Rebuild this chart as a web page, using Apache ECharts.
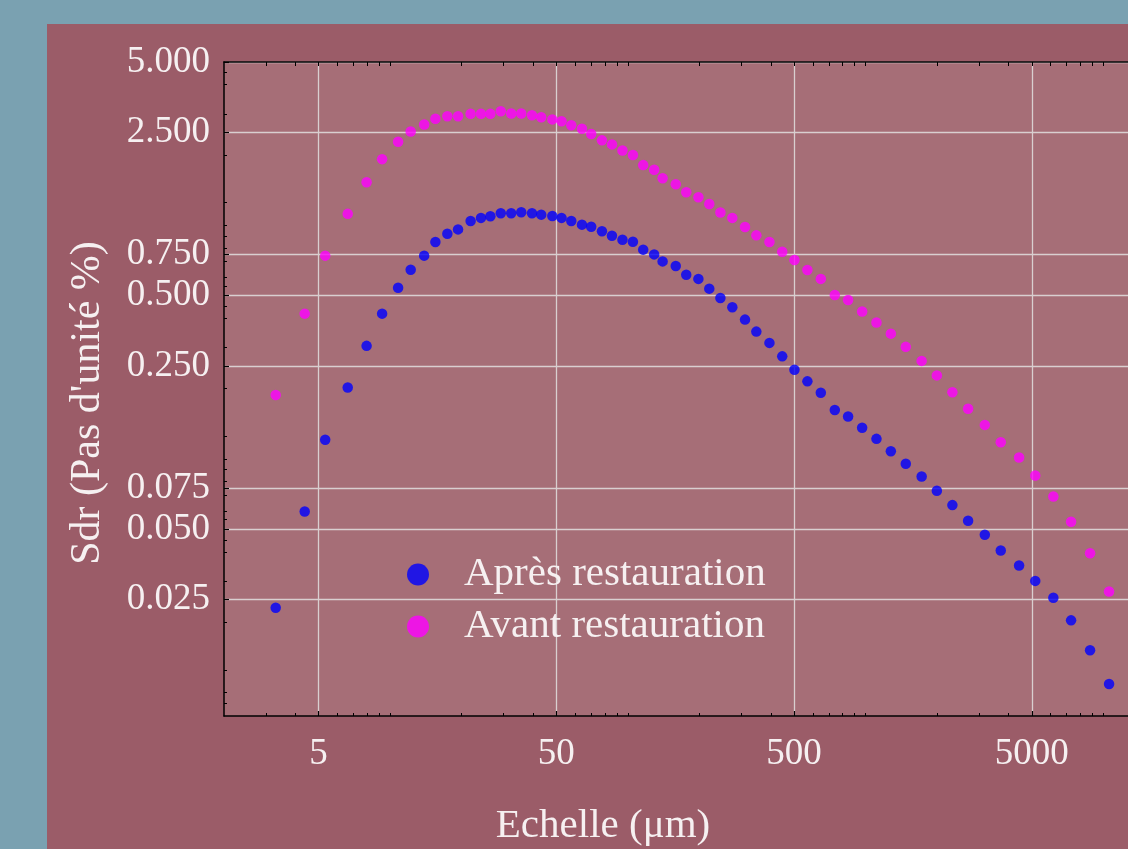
<!DOCTYPE html>
<html>
<head>
<meta charset="utf-8">
<script src="https://cdn.jsdelivr.net/npm/echarts@6/dist/echarts.min.js"></script>
<style>
html,body{margin:0;padding:0;background:#7aa1b1;width:1128px;height:849px;overflow:hidden;}
#panel{position:absolute;left:47px;top:24px;width:1081px;height:825px;background:#9b5c68;}
#c{position:absolute;left:0;top:0;width:1128px;height:849px;}
</style>
</head>
<body>
<div id="panel"></div>
<div id="c"></div>
<script>
// Scale (µm), shared by both series
const scales = [3.30, 4.37, 5.33, 6.63, 7.96, 9.25, 10.8, 12.2, 13.9, 15.5,
  17.4, 19.3, 21.8, 24.1, 26.4, 29.2, 32.3, 35.6, 39.5, 43.2,
  48.1, 52.6, 57.8, 64.1, 70.1, 77.8, 85.7, 94.9, 105, 116,
  129, 140, 159, 176, 198, 220, 245, 275, 311, 347,
  394, 446, 502, 569, 648, 742, 844, 967, 1111, 1277,
  1476, 1721, 1994, 2318, 2699, 3173, 3703, 4422, 5172, 6163,
  7317, 8795, 10572];

// Sdr before restoration (magenta)
const avant = [0.188, 0.419, 0.742, 1.12, 1.53, 1.92, 2.28, 2.52, 2.70, 2.86,
  2.93, 2.93, 3.00, 3.00, 3.00, 3.08, 3.01, 3.01, 2.96, 2.90,
  2.84, 2.79, 2.68, 2.59, 2.46, 2.31, 2.22, 2.09, 2.00, 1.81,
  1.73, 1.59, 1.50, 1.385, 1.318, 1.235, 1.134, 1.076, 0.984, 0.906,
  0.849, 0.771, 0.711, 0.644, 0.590, 0.503, 0.479, 0.428, 0.384, 0.344,
  0.302, 0.263, 0.228, 0.193, 0.164, 0.140, 0.118, 0.1015, 0.085, 0.0691,
  0.0539, 0.0395, 0.0271];

// Sdr after restoration (blue)
const apres = [0.0231, 0.0596, 0.121, 0.2025, 0.305, 0.419, 0.541, 0.646, 0.742, 0.849,
  0.921, 0.961, 1.044, 1.076, 1.093, 1.126, 1.126, 1.137, 1.126, 1.111,
  1.097, 1.076, 1.044, 1.007, 0.987, 0.943, 0.903, 0.868, 0.851, 0.787,
  0.751, 0.701, 0.670, 0.615, 0.590, 0.536, 0.489, 0.446, 0.395, 0.351,
  0.314, 0.275, 0.241, 0.215, 0.192, 0.162, 0.152, 0.136, 0.122, 0.108,
  0.0954, 0.0842, 0.0731, 0.0635, 0.0544, 0.0474, 0.0406, 0.0350, 0.0301, 0.0255,
  0.0204, 0.0152, 0.0109];

const seriesNames = ['Après restauration', 'Avant restauration'];
const xTicks = [5, 50, 500, 5000];
const xMinorTicks = [3, 4, 6, 7, 8, 9, 10, 20, 30, 40, 60, 70, 80, 90, 100,
  200, 300, 400, 600, 700, 800, 900, 1000, 2000, 3000, 4000, 6000, 7000, 8000, 9000, 10000];
const yTicks = [5, 2.5, 0.75, 0.5, 0.25, 0.075, 0.05, 0.025];
const yMinorTicks = [4.5, 4, 3, 2, 1.25, 1, 0.9, 0.8, 0.7, 0.6, 0.55, 0.45, 0.4, 0.3,
  0.2, 0.125, 0.1, 0.09, 0.08, 0.07, 0.06, 0.055, 0.045, 0.04, 0.03, 0.02, 0.0125, 0.01, 0.009];
const xRange = [2, 12700];
const yRange = [0.00795, 5];
const xTitle = 'Echelle (μm)';
const yTitle = "Sdr (Pas d'unité %)";

const L = Math.log10;
const TXT = '#f6f0f1';
const FONT = '"Liberation Serif", "Times New Roman", serif';
const GRID = '#d9cfd0';

const chart = echarts.init(document.getElementById('c'), null, {renderer: 'canvas'});

const xBase = {type: 'value', min: L(xRange[0]), max: L(xRange[1]), gridIndex: 0};
const yBase = {type: 'value', min: L(yRange[0]), max: L(yRange[1]), gridIndex: 0};

chart.setOption({
  backgroundColor: 'transparent',
  animation: false,
  grid: {left: 224, top: 62, right: 0, bottom: 133, show: true,
         backgroundColor: '#a66e77', borderWidth: 0},
  xAxis: [
    Object.assign({}, xBase, {
      position: 'bottom',
      axisLine: {show: true, onZero: false, lineStyle: {color: '#000', width: 1.5}},
      axisTick: {show: true, inside: true, length: 5, customValues: xTicks.map(L),
                 lineStyle: {color: '#000', width: 1.2}},
      axisLabel: {show: true, customValues: xTicks.map(L), margin: 20,
                  formatter: v => String(Math.round(Math.pow(10, v))),
                  color: TXT, fontFamily: FONT, fontSize: 37},
      splitLine: {show: true, lineStyle: {color: GRID, width: 1.3}}
    }),
    Object.assign({}, xBase, {
      position: 'bottom',
      axisLine: {show: false, onZero: false},
      axisTick: {show: true, inside: true, length: 3, customValues: xMinorTicks.map(L),
                 lineStyle: {color: '#000', width: 1}},
      axisLabel: {show: false},
      splitLine: {show: false}
    }),
    Object.assign({}, xBase, {
      position: 'top',
      axisLine: {show: true, onZero: false, lineStyle: {color: '#000', width: 1.5}},
      axisTick: {show: true, inside: true, length: 4,
                 customValues: xTicks.concat(xMinorTicks).map(L),
                 lineStyle: {color: '#000', width: 1}},
      axisLabel: {show: false},
      splitLine: {show: false}
    })
  ],
  yAxis: [
    Object.assign({}, yBase, {
      position: 'left',
      axisLine: {show: true, onZero: false, lineStyle: {color: '#000', width: 1.5}},
      axisTick: {show: true, inside: true, length: 5, customValues: yTicks.map(L),
                 lineStyle: {color: '#000', width: 1.2}},
      axisLabel: {show: true, customValues: yTicks.map(L), margin: 14,
                  formatter: v => Math.pow(10, v).toFixed(3),
                  color: TXT, fontFamily: FONT, fontSize: 37},
      splitLine: {show: true, lineStyle: {color: GRID, width: 1.3}}
    }),
    Object.assign({}, yBase, {
      position: 'left',
      axisLine: {show: false, onZero: false},
      axisTick: {show: true, inside: true, length: 3, customValues: yMinorTicks.map(L),
                 lineStyle: {color: '#000', width: 1}},
      axisLabel: {show: false},
      splitLine: {show: false}
    })
  ],
  legend: {
    data: seriesNames,
    orient: 'vertical',
    left: 402, top: 549,
    itemWidth: 22, itemHeight: 22, itemGap: 11,
    icon: 'circle',
    textStyle: {color: TXT, fontFamily: FONT, fontSize: 41, padding: [0, 0, 0, 30]}
  },
  graphic: [
    {type: 'text', x: 603, y: 826, style: {text: xTitle, fill: TXT, font: '41px ' + FONT,
      textAlign: 'center', textVerticalAlign: 'middle'}},
    {type: 'text', x: 88, y: 403, rotation: Math.PI / 2, style: {text: yTitle, fill: TXT,
      font: '42px ' + FONT, textAlign: 'center', textVerticalAlign: 'middle'}}
  ],
  series: [
    {
      name: seriesNames[0], type: 'scatter', xAxisIndex: 0, yAxisIndex: 0,
      symbol: 'circle', symbolSize: 10.5, itemStyle: {color: '#0000ff'},
      data: scales.map((x, i) => [L(x), L(apres[i])])
    },
    {
      name: seriesNames[1], type: 'scatter', xAxisIndex: 0, yAxisIndex: 0,
      symbol: 'circle', symbolSize: 10.5, itemStyle: {color: '#ff00ff'},
      data: scales.map((x, i) => [L(x), L(avant[i])])
    }
  ]
});
</script>
</body>
</html>
